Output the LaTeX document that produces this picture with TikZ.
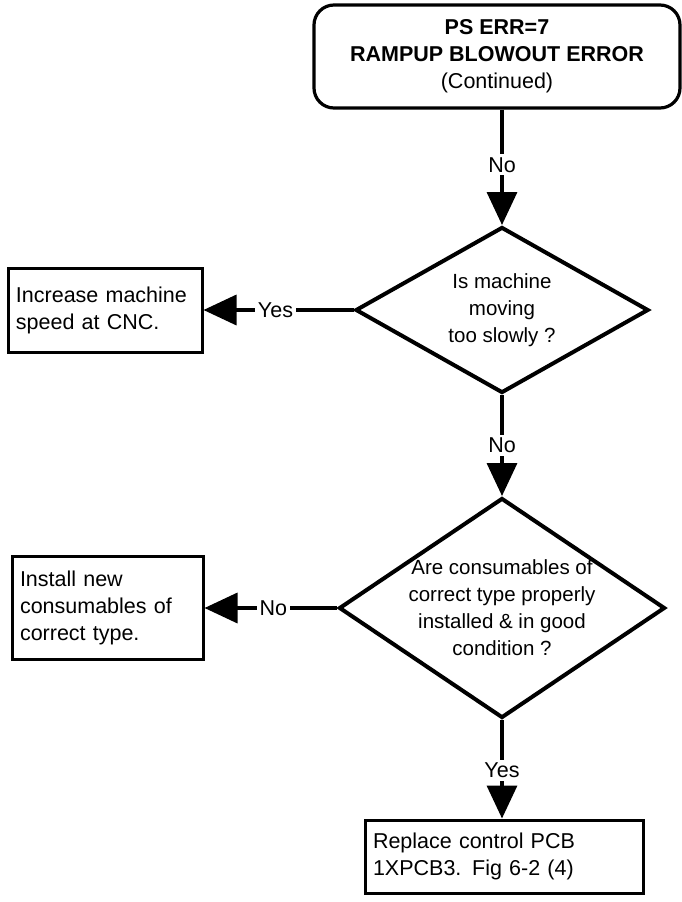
\documentclass[tikz,border=0pt]{standalone}
\usepackage{fontspec}
\setmainfont{Liberation Sans}
\usetikzlibrary{shapes.geometric, arrows.meta, positioning}

\begin{document}
\begin{tikzpicture}[x=1pt, y=-1pt,
    every node/.style={font=\fontsize{21.5}{27}\selectfont},
    start/.style={rectangle, rounded corners=20pt, draw, line width=3.2pt,
                  minimum width=366pt, minimum height=103pt, align=center},
    decision/.style={diamond, draw, line width=4pt, inner sep=-10pt, align=center,
                     font=\fontsize{20.5}{27}\selectfont},
    action/.style={rectangle, draw, line width=3pt, align=left, inner xsep=8pt},
    lbl/.style={fill=white, inner sep=3pt},
    arr/.style={-{Triangle[length=33pt, width=30pt]}, line width=3.5pt}
]
\useasboundingbox (0,0) rectangle (682,902);

\node[start] (err) at (497,56.5) {\textbf{PS ERR=7}\\\textbf{RAMPUP BLOWOUT ERROR}\\(Continued)};
\node[decision, aspect=1.77, minimum width=293pt, minimum height=166pt] (moving) at (502,310) {Is machine\\moving\\too slowly ?};
\node[decision, aspect=1.48, minimum width=326pt, minimum height=220pt] (consum) at (502,608) {Are consumables of\\correct type properly\\installed \& in good\\condition ?};
\node[action, text width=178pt, minimum height=84pt] (speed) at (105,310) {Increase machine\\speed at CNC.};
\node[action, text width=175pt, minimum height=103pt] (install) at (107.5,608) {Install new\\consumables of\\correct type.};
\node[action, text width=262pt, minimum height=73pt] (pcb) at (504,856.5) {Replace control PCB\\1XPCB3. Fig 6-2 (4)};

\draw[arr] (err.south -| moving.north) -- node[lbl, pos=0.48] {No} (moving.north);
\draw[arr] (moving.west) -- node[lbl, pos=0.52] {Yes} (speed.east);
\draw[arr] (moving.south) -- node[lbl] {No} (consum.north);
\draw[arr] (consum.west) -- node[lbl, pos=0.48] {No} (install.east);
\draw[arr] (consum.south) -- node[lbl, pos=0.51] {Yes} (consum.south |- pcb.north);

\end{tikzpicture}
\end{document}
